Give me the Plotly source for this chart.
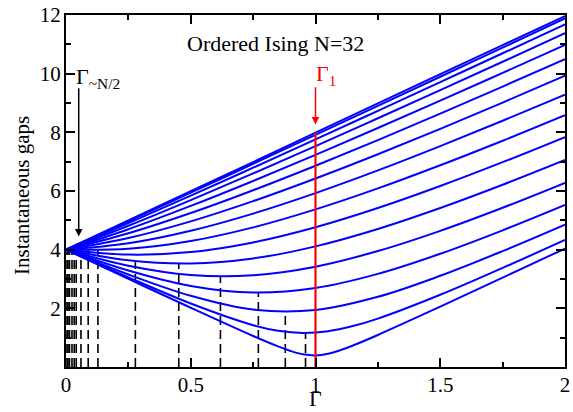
import plotly.graph_objects as go

# ---- data ----
GAMMA = [0, 0.25, 0.5, 0.75, 1.0, 1.25, 1.5, 1.75, 2.0]

GAMMA_1 = [0, 0.25, 0.5, 0.75, 0.85, 0.9, 0.95, 1.0, 1.05, 1.1, 1.15, 1.25, 1.5, 1.75, 2.0]
GAP_1 = [4.0, 3.006, 2.019, 1.056, 0.701, 0.547, 0.432, 0.393, 0.449, 0.574, 0.733, 1.092, 2.057, 3.045, 4.038]

GAMMA_2 = [0, 0.25, 0.5, 0.75, 0.85, 0.95, 1.05, 1.15, 1.25, 1.5, 1.75, 2.0]
GAP_2 = [4.0, 3.057, 2.165, 1.426, 1.237, 1.162, 1.219, 1.395, 1.650, 2.463, 3.378, 4.331]

GAP_3 = [4.0, 3.154, 2.427, 1.958, 1.944, 2.392, 3.109, 3.951, 4.854]
GAP_4 = [4.0, 3.289, 2.763, 2.539, 2.695, 3.175, 3.860, 4.660, 5.525]
GAP_5 = [4.0, 3.453, 3.138, 3.127, 3.421, 3.953, 4.642, 5.429, 6.277]
GAP_6 = [4.0, 3.637, 3.530, 3.700, 4.113, 4.706, 5.420, 6.213, 7.059]
GAP_7 = [4.0, 3.831, 3.919, 4.247, 4.766, 5.421, 6.170, 6.982, 7.837]
GAP_8 = [4.0, 4.027, 4.293, 4.759, 5.373, 6.089, 6.877, 7.714, 8.586]
GAP_9 = [4.0, 4.217, 4.644, 5.230, 5.928, 6.702, 7.530, 8.396, 9.288]
GAP_10 = [4.0, 4.396, 4.964, 5.654, 6.426, 7.253, 8.120, 9.014, 9.929]
GAP_11 = [4.0, 4.558, 5.248, 6.026, 6.862, 7.737, 8.639, 9.560, 10.496]
GAP_12 = [4.0, 4.698, 5.491, 6.342, 7.232, 8.147, 9.080, 10.026, 10.982]
GAP_13 = [4.0, 4.815, 5.689, 6.599, 7.532, 8.481, 9.440, 10.406, 11.379]
GAP_14 = [4.0, 4.905, 5.840, 6.795, 7.760, 8.734, 9.713, 10.695, 11.681]
GAP_15 = [4.0, 4.965, 5.942, 6.927, 7.913, 8.904, 9.896, 10.890, 11.885]
GAP_16 = [4.0, 4.996, 5.994, 6.984, 7.990, 8.990, 9.984, 10.975, 11.960]

DASH_GAMMA = [0.960, 0.879, 0.771, 0.619, 0.452, 0.278, 0.128, 0.089, 0.060,
              0.041, 0.033, 0.024, 0.014, 0.008, 0.004]
DASH_TOP = [1.16, 1.89, 2.54, 3.09, 3.53, 3.83, 3.98, 3.98, 3.98,
            3.98, 3.98, 3.98, 3.99, 3.99, 4.0]

RED_GAMMA = 1.0
RED_TOP = 8.0

X_TICKS = [0, 0.5, 1, 1.5, 2]
X_TICK_TEXT = ["0", "0.5", "1", "1.5", "2"]
Y_TICKS = [2, 4, 6, 8, 10, 12]
Y_TICK_TEXT = ["2", "4", "6", "8", "10", "12"]

TITLE = "Ordered Ising N=32"
X_LABEL = "Γ"
Y_LABEL = "Instantaneous gaps"

# ---- figure ----
FONT = "Liberation Serif"
BLUE = "#0000ff"

fig = go.Figure()

curves = [(GAMMA_1, GAP_1), (GAMMA_2, GAP_2)] + [
    (GAMMA, g) for g in [GAP_3, GAP_4, GAP_5, GAP_6, GAP_7, GAP_8, GAP_9,
                         GAP_10, GAP_11, GAP_12, GAP_13, GAP_14, GAP_15, GAP_16]
]

# dashed verticals
dx, dy = [], []
for g, t in zip(DASH_GAMMA, DASH_TOP):
    dx += [g, g, None]
    dy += [0, t, None]
fig.add_trace(go.Scatter(x=dx, y=dy, mode="lines",
                         line=dict(color="black", width=1.6, dash="9px,5px"),
                         hoverinfo="skip", showlegend=False))

for xs, ys in curves:
    fig.add_trace(go.Scatter(x=xs, y=ys, mode="lines",
                             line=dict(color=BLUE, width=2, shape="spline", smoothing=1),
                             showlegend=False))

fig.add_trace(go.Scatter(x=[RED_GAMMA, RED_GAMMA], y=[0, RED_TOP], mode="lines",
                         line=dict(color="#ff0000", width=2.2), showlegend=False))

axis_common = dict(
    showline=True, linecolor="black", linewidth=2, mirror="allticks",
    ticks="inside", ticklen=9, tickwidth=1.5, tickcolor="black",
    showgrid=False, zeroline=False,
    tickfont=dict(family=FONT, size=21, color="black"),
    ticklabeloverflow="allow",
)

fig.update_xaxes(range=[0, 2], tickvals=X_TICKS, ticktext=X_TICK_TEXT,
                 ticklabelstandoff=-2,
                 minor=dict(dtick=0.25, tick0=0, ticks="inside", ticklen=5,
                            tickwidth=1.5, tickcolor="black"),
                 **axis_common)
fig.update_yaxes(range=[0, 12], tickvals=Y_TICKS, ticktext=Y_TICK_TEXT,
                 ticklabelstandoff=-1,
                 minor=dict(dtick=1, tick0=0, ticks="inside", ticklen=5,
                            tickwidth=1.5, tickcolor="black"),
                 **axis_common)

annotations = [
    dict(text=TITLE, xref="paper", yref="paper", x=0.4196, y=0.918,
         xanchor="center", yanchor="middle", showarrow=False,
         font=dict(family=FONT, size=22, color="black")),
    dict(text=X_LABEL, xref="paper", yref="paper", x=0.5, y=-0.0907,
         xanchor="center", yanchor="middle", showarrow=False,
         font=dict(family=FONT, size=22, color="black")),
    dict(text=Y_LABEL, xref="paper", yref="paper", x=-0.0893, y=0.487,
         xanchor="center", yanchor="middle", showarrow=False, textangle=-90,
         font=dict(family=FONT, size=21, color="black")),
    dict(text="Γ<sub>~N/2</sub>", xref="x", yref="y", x=0.032, y=9.85,
         xanchor="left", yanchor="middle", showarrow=False,
         font=dict(family=FONT, size=22, color="black")),
    dict(text="Γ<sub>1</sub>", xref="x", yref="y", x=0.992, y=9.95,
         xanchor="left", yanchor="middle", showarrow=False,
         font=dict(family=FONT, size=22, color="#ff0000")),
    dict(text="", xref="x", yref="y", x=0.051, y=4.45, axref="x", ayref="y",
         ax=0.051, ay=9.55, showarrow=True, arrowhead=2, arrowsize=1,
         arrowwidth=1.5, arrowcolor="black"),
    dict(text="", xref="x", yref="y", x=1.0, y=8.27, axref="x", ayref="y",
         ax=1.0, ay=9.59, showarrow=True, arrowhead=2, arrowsize=1,
         arrowwidth=1.5, arrowcolor="#ff0000"),
]

fig.update_layout(
    width=573, height=412,
    margin=dict(l=66, r=3, t=14, b=45),
    paper_bgcolor="white", plot_bgcolor="white",
    annotations=annotations,
    showlegend=False,
)

fig.write_html("out.html")
